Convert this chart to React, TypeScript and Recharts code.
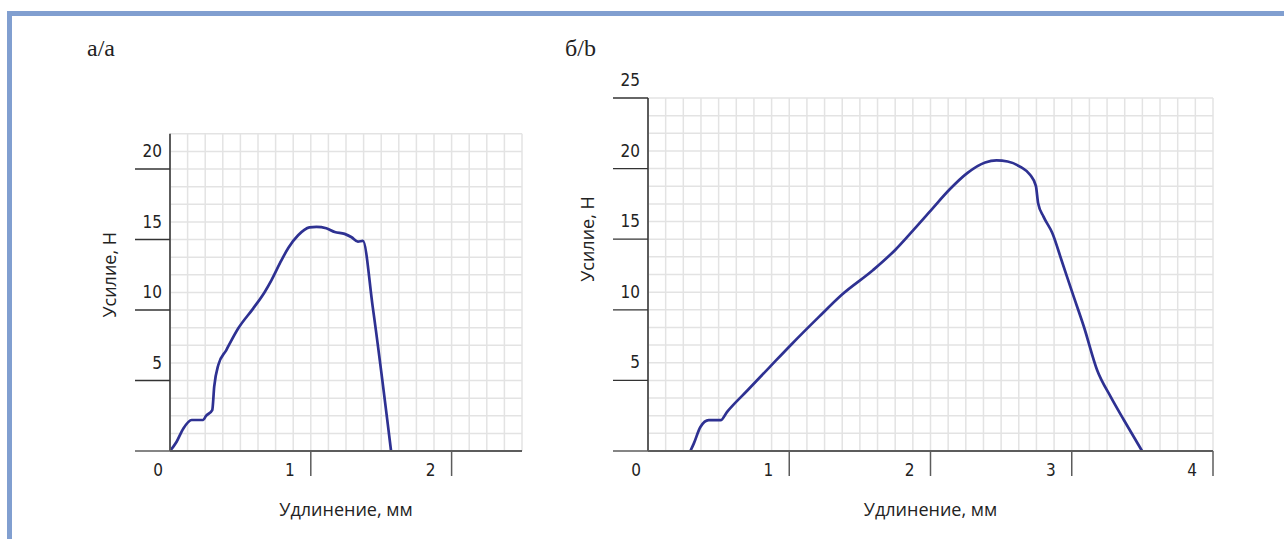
import React from "react";
import { LineChart, Line, XAxis, YAxis, CartesianGrid, Label } from "recharts";

type Pt = { x: number; y: number };

// а/a — удлинение, мм -> усилие, Н
const curveA: Pt[] = [
  { x: 0.0, y: 0 },
  { x: 0.047, y: 0.66 },
  { x: 0.095, y: 1.6 },
  { x: 0.154, y: 2.2 },
  { x: 0.236, y: 2.2 },
  { x: 0.255, y: 2.48 },
  { x: 0.3, y: 2.9 },
  { x: 0.314, y: 4.56 },
  { x: 0.343, y: 6.1 },
  { x: 0.4, y: 7.16 },
  { x: 0.485, y: 8.7 },
  { x: 0.59, y: 10.1 },
  { x: 0.674, y: 11.3 },
  { x: 0.72, y: 12.1 },
  { x: 0.78, y: 13.3 },
  { x: 0.84, y: 14.4 },
  { x: 0.91, y: 15.3 },
  { x: 0.99, y: 15.86 },
  { x: 1.04, y: 15.9 },
  { x: 1.11, y: 15.8 },
  { x: 1.17, y: 15.53 },
  { x: 1.24, y: 15.4 },
  { x: 1.29, y: 15.16 },
  { x: 1.335, y: 14.85 },
  { x: 1.37, y: 14.9 },
  { x: 1.44, y: 10.2 },
  { x: 1.57, y: 0 },
];

// б/b
const curveB: Pt[] = [
  { x: 0.3, y: 0 },
  { x: 0.324, y: 0.52 },
  { x: 0.371, y: 1.7 },
  { x: 0.43, y: 2.18 },
  { x: 0.514, y: 2.18 },
  { x: 0.56, y: 2.77 },
  { x: 0.705, y: 4.3 },
  { x: 0.863, y: 5.96 },
  { x: 1.02, y: 7.6 },
  { x: 1.21, y: 9.5 },
  { x: 1.37, y: 11.05 },
  { x: 1.594, y: 12.82 },
  { x: 1.75, y: 14.24 },
  { x: 1.88, y: 15.66 },
  { x: 2.006, y: 17.08 },
  { x: 2.133, y: 18.5 },
  { x: 2.26, y: 19.68 },
  { x: 2.387, y: 20.43 },
  { x: 2.467, y: 20.58 },
  { x: 2.546, y: 20.5 },
  { x: 2.64, y: 20.1 },
  { x: 2.705, y: 19.56 },
  { x: 2.746, y: 18.78 },
  { x: 2.762, y: 17.55 },
  { x: 2.8, y: 16.6 },
  { x: 2.863, y: 15.42 },
  { x: 2.927, y: 13.53 },
  { x: 3.006, y: 11.16 },
  { x: 3.086, y: 8.8 },
  { x: 3.18, y: 5.72 },
  { x: 3.276, y: 3.83 },
  { x: 3.37, y: 2.18 },
  { x: 3.498, y: 0 },
];

const xLabelsA = [0, 1, 2];
const yLabelsA = [5, 10, 15, 20];
const xLabelsB = [0, 1, 2, 3, 4];
const yLabelsB = [5, 10, 15, 20, 25];

// grid every 1/8 mm and every 1.25 N
const steps = (max: number, step: number) => {
  const out: number[] = [];
  for (let i = 0; i * step <= max + 1e-9; i++) out.push(i * step);
  return out;
};

const LINE = "#2e3192";
const GRID = "#e3e3e3";
const AXIS = "#5c5c5c";
const FRAME = "#819fd0";
const TICK_FONT = "'DejaVu Sans Condensed', 'Liberation Sans Narrow', 'Liberation Sans', sans-serif";
const TITLE_FONT = "'Open Sans', sans-serif";

const XTick = (props: any) => {
  const { x, y, payload, labels } = props;
  const v = payload.value;
  if (!labels.includes(v)) return <g />;
  return (
    <g>
      {v > 0 && <line x1={x} y1={y} x2={x} y2={y + 25} stroke={AXIS} strokeWidth={1.5} />}
      <text
        x={x + (v === 0 ? -12 : -21)}
        y={y + 25}
        textAnchor="middle"
        fontFamily={TICK_FONT}
        fontSize={17}
        fill="#222"
      >
        {v}
      </text>
    </g>
  );
};

const YTick = (props: any) => {
  const { x, y, payload, labels } = props;
  const v = payload.value;
  if (v === 0) return <line x1={x - 35} y1={y} x2={x} y2={y} stroke={AXIS} strokeWidth={1.5} />;
  if (!labels.includes(v)) return <g />;
  return (
    <g>
      <line x1={x - 35} y1={y} x2={x} y2={y} stroke="#333" strokeWidth={1.3} />
      <text x={x - 8} y={y - 12} textAnchor="end" fontFamily={TICK_FONT} fontSize={17} fill="#222">
        {v}
      </text>
    </g>
  );
};

const xTitle = (vb: any) => (
  <text
    x={vb.x + vb.width / 2}
    y={vb.y + 65}
    textAnchor="middle"
    fontFamily={TITLE_FONT}
    fontSize={18}
    fill="#222"
  >
    Удлинение, мм
  </text>
);

const yTitle = (vb: any) => {
  const cx = vb.x + vb.width - 61;
  const cy = vb.y + 141;
  return (
    <text
      x={cx}
      y={cy}
      transform={`rotate(-90 ${cx} ${cy})`}
      textAnchor="middle"
      dominantBaseline="central"
      fontFamily={TITLE_FONT}
      fontSize={18}
      fill="#222"
    >
      Усилие, Н
    </text>
  );
};

type PanelProps = {
  data: Pt[];
  left: number;
  width: number;
  margin: { top: number; right: number; bottom: number; left: number };
  yAxisWidth: number;
  xMax: number;
  yMax: number;
  xLabels: number[];
  yLabels: number[];
};

const Panel = ({ data, left, width, margin, yAxisWidth, xMax, yMax, xLabels, yLabels }: PanelProps) => (
  <div style={{ position: "absolute", left, top: 0 }}>
    <LineChart width={width} height={539} data={data} margin={margin}>
      <CartesianGrid stroke={GRID} strokeWidth={1.5} />
      <XAxis
        dataKey="x"
        type="number"
        domain={[0, xMax]}
        ticks={steps(xMax, 0.125)}
        interval={0}
        height={70}
        tickSize={0}
        tickMargin={0}
        tickLine={false}
        axisLine={{ stroke: AXIS, strokeWidth: 2 }}
        tick={(p: any) => <XTick {...p} labels={xLabels} />}
      >
        <Label content={(p: any) => xTitle(p.viewBox)} />
      </XAxis>
      <YAxis
        type="number"
        domain={[0, yMax]}
        ticks={steps(yMax, 1.25)}
        interval={0}
        width={yAxisWidth}
        tickSize={0}
        tickMargin={0}
        tickLine={false}
        axisLine={{ stroke: AXIS, strokeWidth: 2 }}
        tick={(p: any) => <YTick {...p} labels={yLabels} />}
      >
        <Label content={(p: any) => yTitle(p.viewBox)} />
      </YAxis>
      <Line
        dataKey="y"
        type="monotone"
        stroke={LINE}
        strokeWidth={2.7}
        dot={false}
        isAnimationActive={false}
      />
    </LineChart>
  </div>
);

export default function App() {
  return (
    <div
      style={{
        position: "absolute",
        left: 0,
        top: 0,
        width: 1284,
        height: 539,
        background: "#fff",
        overflow: "hidden",
      }}
    >
      <svg width={1284} height={539} style={{ position: "absolute", left: 0, top: 0 }}>
        <rect x={7} y={11} width={1277} height={5} fill={FRAME} />
        <rect x={7} y={11} width={5} height={528} fill={FRAME} />
        <text x={87} y={56} fontFamily="'Liberation Serif', serif" fontSize={24} fill="#222">
          а/а
        </text>
        <text x={565} y={56} fontFamily="'Liberation Serif', serif" fontSize={24} fill="#222">
          б/b
        </text>
      </svg>
      <Panel
        data={curveA}
        left={0}
        width={540}
        margin={{ top: 133.75, right: 18, bottom: 18, left: 110 }}
        yAxisWidth={60}
        xMax={2.5}
        yMax={22.5}
        xLabels={xLabelsA}
        yLabels={yLabelsA}
      />
      <Panel
        data={curveB}
        left={550}
        width={710}
        margin={{ top: 98, right: 47, bottom: 18, left: 58 }}
        yAxisWidth={40}
        xMax={4}
        yMax={25}
        xLabels={xLabelsB}
        yLabels={yLabelsB}
      />
    </div>
  );
}
